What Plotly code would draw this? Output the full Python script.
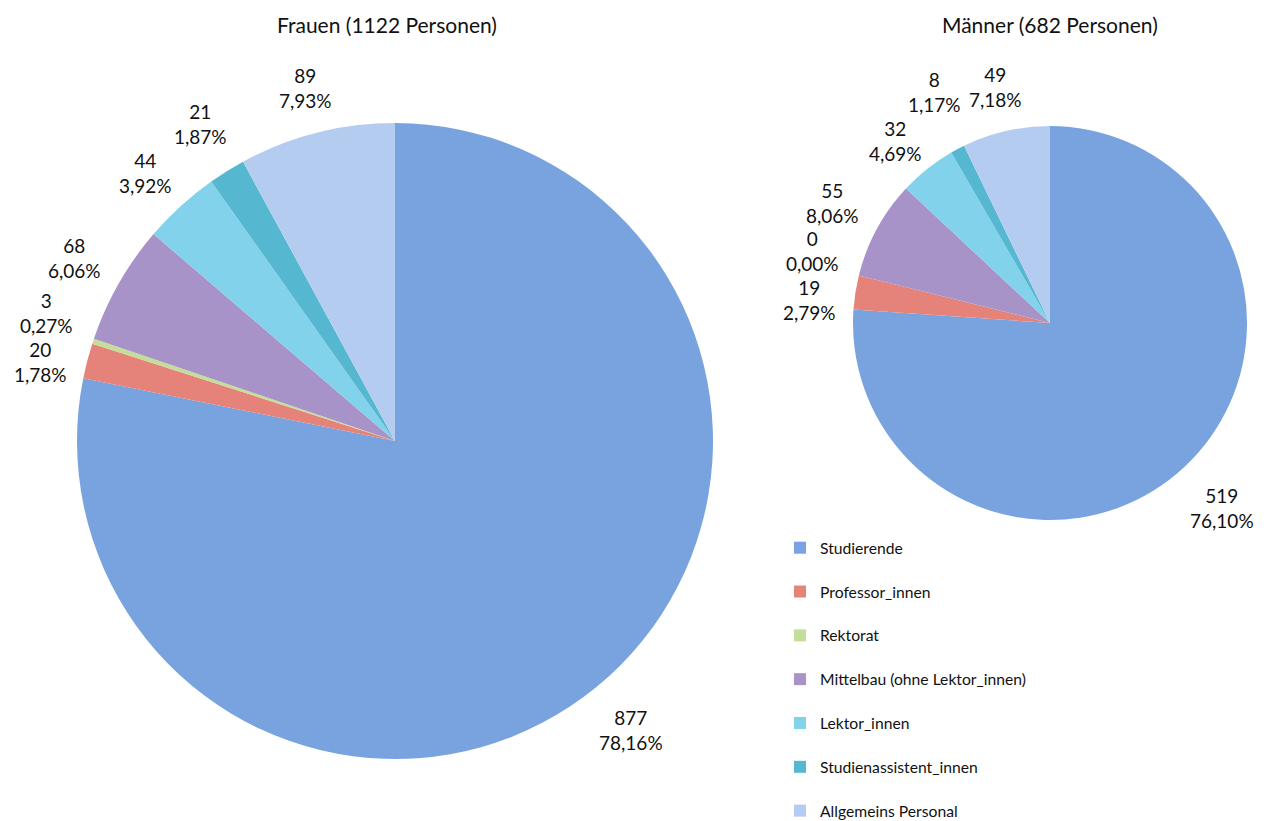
import math
import plotly.graph_objects as go

categories = ["Studierende", "Professor_innen", "Rektorat",
              "Mittelbau (ohne Lektor_innen)", "Lektor_innen",
              "Studienassistent_innen", "Allgemeins Personal"]
frauen = [877, 20, 3, 68, 44, 21, 89]
maenner = [519, 19, 0, 55, 32, 8, 49]
titles = ["Frauen (1122 Personen)", "Männer (682 Personen)"]
colors = ["#78a3df", "#e5837a", "#c3df97", "#a893c8", "#82d2ec", "#55b8d0", "#b5ccf1"]

FONT = "Lato, Liberation Sans, sans-serif"
W, H = 1273, 821
OFF = 8  # page body margin offset of the figure in the browser
TXT = "#111111"

# pie geometry in screen pixels: centre x, centre y, radius
pies = [
    dict(values=frauen, cx=395, cy=441, r=318, title_x=387),
    dict(values=maenner, cx=1050, cy=323, r=197, title_x=1050),
]


def px(x):
    return (x - OFF) / W


def py(y):
    return 1 - (y - OFF) / H


def dom(cx, cy, r):
    return dict(x=[px(cx - r), px(cx + r)], y=[py(cy + r), py(cy - r)])


def fmt_pct(v, total):
    return ("%.2f%%" % (100.0 * v / total)).replace(".", ",")


def half_width(s):
    # rough text half-width at 19px Lato
    w = 0.0
    for ch in s:
        w += 5.0 if ch == "," else (16.0 if ch == "%" else 10.8)
    return w / 2.0


# legend labels: extra blank line for spacing (except last entry)
labels = [c + "<br> " for c in categories[:-1]] + [categories[-1]]

fig = go.Figure()
annotations = []
GAP, HH = 16, 24
for i, p in enumerate(pies):
    vals = p["values"]
    fig.add_trace(go.Pie(
        labels=labels, values=vals, sort=False, direction="clockwise", rotation=0,
        marker=dict(colors=colors, line=dict(width=0)),
        textposition="none", domain=dom(p["cx"], p["cy"], p["r"]),
        showlegend=(i == 0), hoverinfo="label+value+percent",
    ))
    total = float(sum(vals))
    pcts = [fmt_pct(v, total) for v in vals]
    texts = ["%d<br>%s" % (v, pc) for v, pc in zip(vals, pcts)]
    hws = [half_width(pc) for pc in pcts]
    pos = []
    cum = 0.0
    for v, hw in zip(vals, hws):
        mid = (cum + v / 2.0) / total * 2 * math.pi
        cum += v
        sx, sy = math.sin(mid), -math.cos(mid)
        d = p["r"] + GAP + abs(sx) * hw + abs(sy) * HH
        pos.append([p["cx"] + d * sx, p["cy"] + d * sy])
    # simple vertical collision relaxation
    bh = 48
    for _ in range(30):
        for a in range(len(pos)):
            for b in range(a + 1, len(pos)):
                dx = abs(pos[a][0] - pos[b][0])
                dy = pos[b][1] - pos[a][1]
                if dx < hws[a] + hws[b] + 4 and abs(dy) < bh:
                    push = (bh - abs(dy)) / 2.0 + 0.5
                    s = 1 if dy >= 0 else -1
                    pos[a][1] -= s * push
                    pos[b][1] += s * push
    for t, (x, y) in zip(texts, pos):
        annotations.append(dict(
            text=t, x=px(x), y=py(y),
            xref="paper", yref="paper", xanchor="center", yanchor="middle",
            showarrow=False, align="center",
            font=dict(size=19, family=FONT, color=TXT)))
    annotations.append(dict(text=titles[i], x=px(p["title_x"]), y=py(24),
                            xref="paper", yref="paper",
                            xanchor="center", yanchor="middle", showarrow=False,
                            font=dict(size=21, family=FONT, color=TXT)))

fig.update_layout(
    width=W, height=H, margin=dict(l=0, r=0, t=0, b=0, autoexpand=False),
    paper_bgcolor="white", plot_bgcolor="white",
    separators=",.",
    font=dict(family=FONT, size=17, color=TXT),
    legend=dict(x=px(780), y=py(531), xanchor="left", yanchor="top",
                valign="top", font=dict(size=15.7, family=FONT, color=TXT),
                itemwidth=30, bgcolor="rgba(0,0,0,0)"),
    annotations=annotations,
)

fig.write_html("out.html")
